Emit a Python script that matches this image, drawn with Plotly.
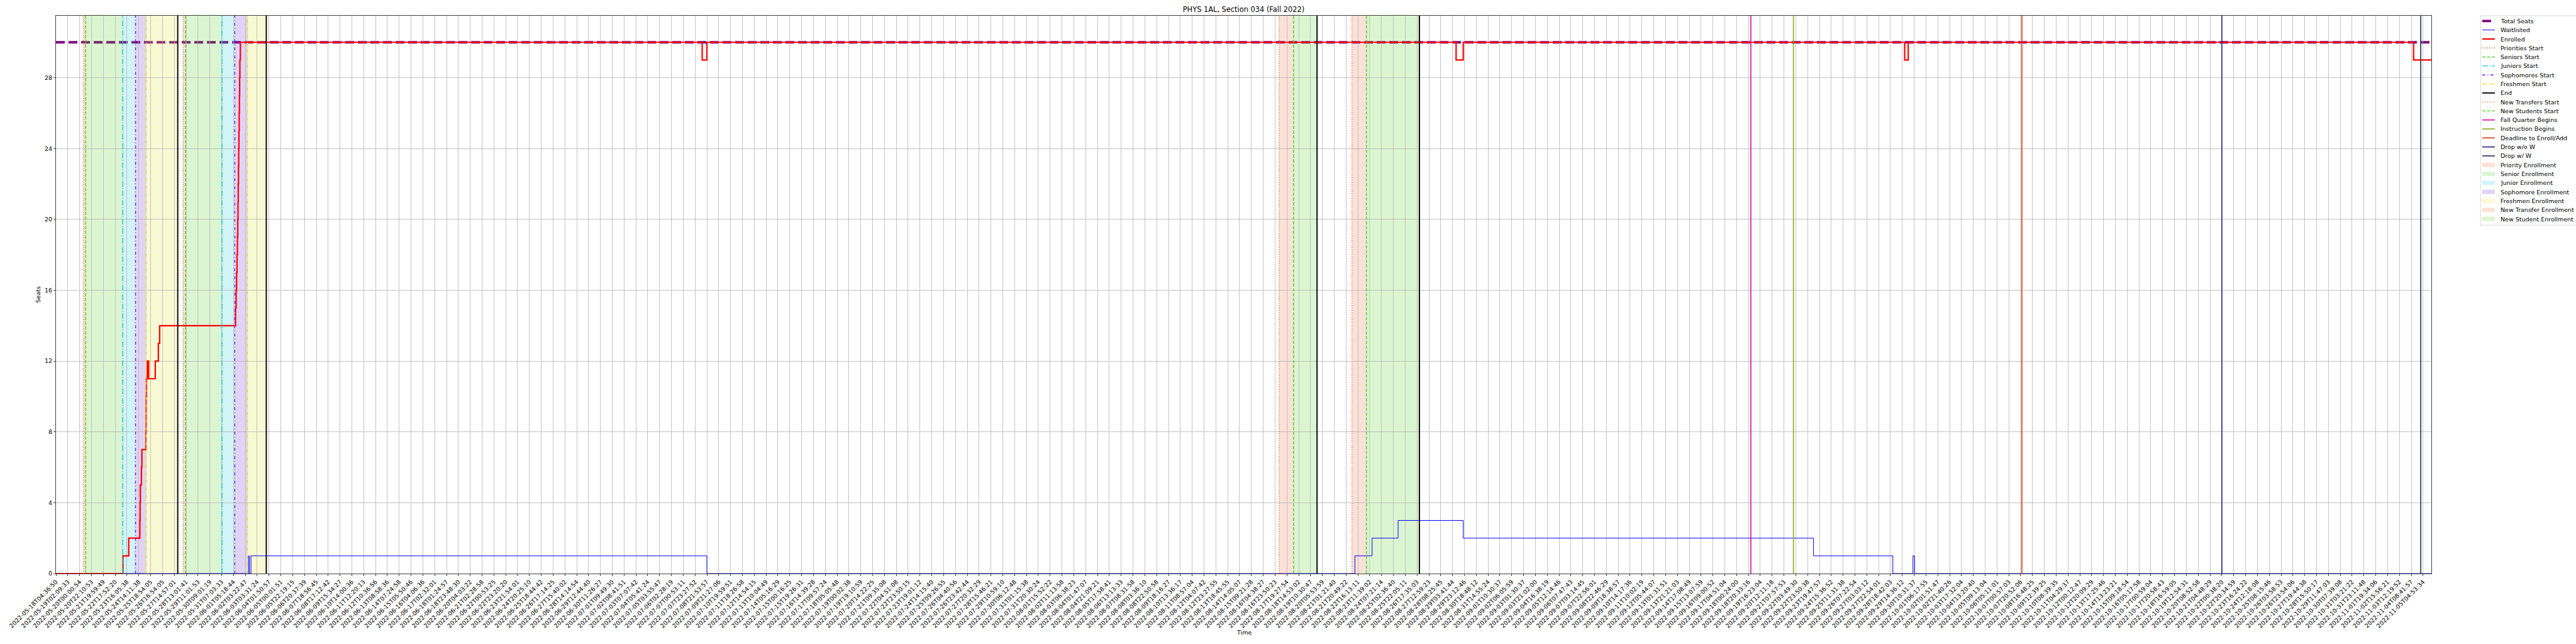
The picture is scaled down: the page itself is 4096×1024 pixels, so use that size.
import plotly.graph_objects as go

# ---------------- data ----------------
tick_labels = [
    "2022-05-18T04:36:50", "2022-05-19T02:09:33", "2022-05-20T00:00:54", "2022-05-20T22:10:53",
    "2022-05-21T19:59:49", "2022-05-22T17:52:20", "2022-05-23T16:05:38", "2022-05-24T14:11:38",
    "2022-05-25T18:54:05", "2022-05-26T16:54:05", "2022-05-27T14:57:01", "2022-05-28T13:01:41",
    "2022-05-29T11:01:53", "2022-05-30T09:01:19", "2022-05-31T07:03:33", "2022-06-01T05:18:44",
    "2022-06-02T03:22:47", "2022-06-03T03:31:24", "2022-06-04T01:50:57", "2022-06-05T00:01:51",
    "2022-06-05T22:19:15", "2022-06-06T20:37:39", "2022-06-07T18:56:45", "2022-06-08T17:12:42",
    "2022-06-09T15:34:27", "2022-06-10T14:00:36", "2022-06-11T12:20:13", "2022-06-12T10:36:56",
    "2022-06-13T08:58:36", "2022-06-14T07:24:58", "2022-06-15T05:50:46", "2022-06-16T04:06:36",
    "2022-06-17T02:32:01", "2022-06-18T01:24:57", "2022-06-18T23:48:30", "2022-06-20T04:03:22",
    "2022-06-21T02:28:58", "2022-06-22T00:53:25", "2022-06-22T23:20:20", "2022-06-23T21:54:01",
    "2022-06-24T20:25:10", "2022-06-25T18:44:42", "2022-06-26T17:14:25", "2022-06-27T15:40:02",
    "2022-06-28T14:14:54", "2022-06-29T12:44:40", "2022-06-30T11:26:27", "2022-07-01T09:49:30",
    "2022-07-02T08:41:51", "2022-07-03T07:07:42", "2022-07-04T05:41:24", "2022-07-05T03:55:47",
    "2022-07-06T02:28:19", "2022-07-07T00:53:11", "2022-07-07T23:27:52", "2022-07-08T21:53:57",
    "2022-07-09T21:27:06", "2022-07-10T19:59:51", "2022-07-11T18:26:58", "2022-07-12T14:54:15",
    "2022-07-13T10:04:49", "2022-07-14T05:16:29", "2022-07-15T00:16:25", "2022-07-15T19:26:31",
    "2022-07-16T14:39:28", "2022-07-17T09:57:24", "2022-07-18T05:05:48", "2022-07-19T00:02:38",
    "2022-07-19T19:10:59", "2022-07-20T14:22:25", "2022-07-21T09:35:08", "2022-07-22T04:51:08",
    "2022-07-22T23:50:15", "2022-07-23T19:01:12", "2022-07-24T14:15:40", "2022-07-25T09:26:55",
    "2022-07-26T04:40:56", "2022-07-26T23:42:44", "2022-07-27T20:32:29", "2022-07-28T15:46:21",
    "2022-07-29T10:59:10", "2022-07-30T06:12:48", "2022-07-31T01:15:38", "2022-07-31T20:30:24",
    "2022-08-01T15:52:22", "2022-08-02T11:13:58", "2022-08-03T06:38:23", "2022-08-04T01:47:07",
    "2022-08-04T21:09:21", "2022-08-05T17:58:41", "2022-08-06T13:13:33", "2022-08-07T08:31:58",
    "2022-08-08T03:36:10", "2022-08-08T22:50:58", "2022-08-09T18:16:27", "2022-08-10T13:36:17",
    "2022-08-11T08:57:04", "2022-08-12T04:07:42", "2022-08-12T23:27:55", "2022-08-13T18:45:55",
    "2022-08-14T14:05:07", "2022-08-15T09:21:28", "2022-08-16T04:38:27", "2022-08-16T23:50:23",
    "2022-08-17T19:27:54", "2022-08-18T14:53:02", "2022-08-19T10:30:47", "2022-08-20T05:53:59",
    "2022-08-21T01:21:40", "2022-08-21T20:49:22", "2022-08-22T16:13:11", "2022-08-23T11:39:02",
    "2022-08-24T07:21:14", "2022-08-25T02:36:40", "2022-08-25T22:05:11", "2022-08-26T17:35:03",
    "2022-08-27T12:59:23", "2022-08-28T08:25:45", "2022-08-29T03:41:44", "2022-08-29T23:12:46",
    "2022-08-30T18:48:12", "2022-08-31T14:55:24", "2022-09-01T10:30:37", "2022-09-02T06:05:59",
    "2022-09-03T01:30:37", "2022-09-03T21:02:00", "2022-09-04T16:38:19", "2022-09-05T12:14:46",
    "2022-09-06T07:47:43", "2022-09-07T03:14:45", "2022-09-07T22:56:01", "2022-09-08T22:46:29",
    "2022-09-09T18:38:57", "2022-09-10T14:17:36", "2022-09-11T10:02:19", "2022-09-12T05:44:07",
    "2022-09-13T01:31:51", "2022-09-13T21:21:03", "2022-09-14T17:08:49", "2022-09-15T13:07:59",
    "2022-09-16T09:00:52", "2022-09-17T04:51:04", "2022-09-18T00:24:00", "2022-09-18T20:33:16",
    "2022-09-19T16:23:04", "2022-09-20T12:11:18", "2022-09-21T07:57:53", "2022-09-22T03:49:30",
    "2022-09-22T23:50:38", "2022-09-23T19:47:57", "2022-09-24T15:36:52", "2022-09-25T11:31:38",
    "2022-09-26T07:22:54", "2022-09-27T03:03:12", "2022-09-27T22:54:01", "2022-09-28T18:42:03",
    "2022-09-29T14:36:12", "2022-09-30T10:31:37", "2022-10-01T06:17:55", "2022-10-02T01:51:47",
    "2022-10-02T21:40:26", "2022-10-03T17:32:04", "2022-10-04T13:20:40", "2022-10-05T09:13:04",
    "2022-10-06T05:11:01", "2022-10-07T00:57:03", "2022-10-07T20:52:06", "2022-10-08T16:48:25",
    "2022-10-09T12:39:25", "2022-10-10T08:39:35", "2022-10-11T04:29:37", "2022-10-12T00:12:47",
    "2022-10-12T20:09:29", "2022-10-13T17:25:46", "2022-10-14T13:23:21", "2022-10-15T09:18:54",
    "2022-10-16T05:17:58", "2022-10-17T00:59:04", "2022-10-17T20:58:43", "2022-10-18T16:59:05",
    "2022-10-19T12:54:31", "2022-10-20T08:52:58", "2022-10-21T04:48:29", "2022-10-22T00:38:20",
    "2022-10-22T20:34:59", "2022-10-23T16:24:22", "2022-10-24T12:18:08", "2022-10-25T08:15:46",
    "2022-10-26T03:58:53", "2022-10-26T23:54:06", "2022-10-27T19:44:38", "2022-10-28T15:50:17",
    "2022-10-29T11:47:03", "2022-10-30T07:39:08", "2022-10-31T03:21:22", "2022-10-31T23:11:48",
    "2022-11-01T19:34:06", "2022-11-02T15:56:21", "2022-11-03T12:19:52", "2022-11-04T08:41:57",
    "2022-11-05T04:53:34",
]
x_end = 200.7          # last sample position (in tick-step units)
total_seats = 30

# Enrolled (step changes: position in tick units, value from that point on)
enrolled_x = [0, 5.66, 6.15, 7.09, 7.11, 7.13, 7.22, 7.26, 7.60, 7.62, 7.64, 7.72, 7.83,
              8.39, 8.65, 8.76, 15.17, 15.22, 15.26, 15.30, 15.33, 15.36, 15.38, 15.40,
              15.42, 15.44, 15.46, 15.48, 15.50, 15.52, 15.54, 15.56, 15.58,
              54.6, 55.0, 118.3, 118.9, 156.2, 156.5, 199.2, x_end]
enrolled_y = [0, 1, 2, 3, 4, 5, 6, 7, 8, 10, 11, 12, 11,
              12, 13, 14, 15, 16, 17, 18, 19, 20, 21, 22,
              23, 24, 25, 26, 27, 28, 29, 29, 30,
              29, 30, 29, 30, 29, 30, 29, 29]

# Waitlisted
wait_x = [0, 16.27, 16.35, 16.48, 55.0, 109.75, 111.2, 113.4, 118.9, 148.5, 155.2,
          156.9, 157.04, x_end]
wait_y = [0, 1, 0, 1, 0, 1, 2, 3, 2, 1, 0, 1, 0, 0]

# Event markers (tick units)
priorities_start = [2.33, 10.75]
seniors_start = [2.51, 10.94]
juniors_start = [5.64, 14.03]
sophomores_start = [6.72, 15.11]
freshmen_start = [7.62, 16.18]
end_marks = [10.29, 17.77, 106.55, 115.2]
new_transfers_start = [103.35, 109.5]
new_students_start = [104.57, 110.72]
fall_quarter_begins = [143.2]
instruction_begins = [146.8]
deadline_enroll_add = [166.1]
drop_wo_w = [183.0]
drop_w_w = [199.8]

y_ticks = [0, 4, 8, 12, 16, 20, 24, 28]

# ---------------- styling ----------------
FONT = "DejaVu Sans"
W, H = 4096, 1024
L, R, T, B = 89, 230, 25, 112
PW, PH = W - L - R, H - T - B

def px_x(p):
    return (p - L) / PW

def px_y(p):
    return 1 - (p - T) / PH

C_PRI = "#F26A35"
C_SEN = "#4CCF1A"
C_JUN = "#18C6D8"
C_SOP = "#6A22D4"
C_FRE = "#E0E02A"

DOT = "1.4px,2.3px"
DASH = "5.3px,2.3px"
DASHDOT = "9px,2.3px,1.4px,2.3px"
SOPH = "4.8px,3.4px,1.4px,3.4px"
FRESH = "5px,1.4px,1.4px,1.4px,1.4px,1.4px"

fig = go.Figure()

fig.add_trace(go.Scatter(x=wait_x, y=wait_y, mode="lines", line_shape="hv",
                         line=dict(color="#0000FF", width=1.0), name="Waitlisted",
                         showlegend=False, hoverinfo="skip"))
fig.add_trace(go.Scatter(x=enrolled_x, y=enrolled_y, mode="lines", line_shape="hv",
                         line=dict(color="#FF0000", width=2.2), name="Enrolled",
                         showlegend=False, hoverinfo="skip"))

shapes = []
legend_items = []   # (kind, name, style)

ts_line = dict(color="#800080", width=3.8, dash="14px,6px")
shapes.append(dict(type="line", xref="paper", x0=0, x1=1, yref="y", y0=total_seats, y1=total_seats,
                   line=ts_line, layer="between"))
legend_items.append(("line", "Total Seats", ts_line))
legend_items.append(("line", "Waitlisted", dict(color="#0000FF", width=1.0)))
legend_items.append(("line", "Enrolled", dict(color="#FF0000", width=2.2)))

def vlines(xs, name, color, dash, width):
    ln = dict(color=color, width=width, dash=dash)
    for xv in xs:
        shapes.append(dict(type="line", xref="x", x0=xv, x1=xv, yref="paper", y0=0, y1=1,
                           line=ln, layer="above"))
    legend_items.append(("line", name, ln))

def spans(starts, ends, name, color):
    for a, b in zip(starts, ends):
        shapes.append(dict(type="rect", xref="x", x0=a, x1=b, yref="paper", y0=0, y1=1,
                           fillcolor=color, opacity=0.2, line=dict(width=0), layer="below"))
    legend_items.append(("rect", name, color))

vlines(priorities_start, "Priorities Start", C_PRI, DOT, 1.4)
vlines(seniors_start, "Seniors Start", C_SEN, DASH, 1.4)
vlines(juniors_start, "Juniors Start", C_JUN, DASHDOT, 1.4)
vlines(sophomores_start, "Sophomores Start", C_SOP, SOPH, 1.4)
vlines(freshmen_start, "Freshmen Start", C_FRE, FRESH, 1.4)
vlines(end_marks, "End", "#000000", "solid", 1.9)
vlines(new_transfers_start, "New Transfers Start", C_PRI, DOT, 1.4)
vlines(new_students_start, "New Students Start", C_SEN, DASH, 1.4)
vlines(fall_quarter_begins, "Fall Quarter Begins", "#E0119D", "solid", 1.7)
vlines(instruction_begins, "Instruction Begins", "#8DB31A", "solid", 1.7)
vlines(deadline_enroll_add, "Deadline to Enroll/Add", "#D6441A", "solid", 1.7)
vlines(drop_wo_w, "Drop w/o W", "#2E2A8C", "solid", 1.7)
vlines(drop_w_w, "Drop w/ W", "#2F3C5C", "solid", 1.7)

spans(priorities_start, seniors_start, "Priority Enrollment", C_PRI)
spans(seniors_start, juniors_start, "Senior Enrollment", C_SEN)
spans(juniors_start, sophomores_start, "Junior Enrollment", C_JUN)
spans(sophomores_start, freshmen_start, "Sophomore Enrollment", C_SOP)
spans(freshmen_start, end_marks[:2], "Freshmen Enrollment", C_FRE)
spans(new_transfers_start, new_students_start, "New Transfer Enrollment", C_PRI)
spans(new_students_start, end_marks[2:], "New Student Enrollment", C_SEN)

# ---------------- manual legend (matplotlib-like, outside right) ----------------
LEG_X0, LEG_X1 = 3944, 4110
LEG_Y0 = 25
ROW0, ROWH = 33.4, 14.3
LEG_Y1 = ROW0 + ROWH * (len(legend_items) - 1) + 10
H_X0, H_X1 = 3947, 3967
TXT_X = 3974

shapes.append(dict(type="rect", xref="paper", yref="paper",
                   x0=px_x(LEG_X0), x1=px_x(LEG_X1), y0=px_y(LEG_Y0), y1=px_y(LEG_Y1),
                   fillcolor="white", line=dict(color="#cccccc", width=0.8), layer="above"))
annotations = []
for i, (kind, name, style) in enumerate(legend_items):
    yc = ROW0 + ROWH * i
    if kind == "line":
        shapes.append(dict(type="line", xref="paper", yref="paper",
                           x0=px_x(H_X0), x1=px_x(H_X1), y0=px_y(yc), y1=px_y(yc),
                           line=style, layer="above"))
    else:
        shapes.append(dict(type="rect", xref="paper", yref="paper",
                           x0=px_x(H_X0), x1=px_x(H_X1), y0=px_y(yc - 3.4), y1=px_y(yc + 3.4),
                           fillcolor=style, opacity=0.2, line=dict(width=0), layer="above"))
    annotations.append(dict(text=name, xref="paper", yref="paper", x=px_x(TXT_X), y=px_y(yc),
                            xanchor="left", yanchor="middle", showarrow=False,
                            font=dict(family=FONT, size=9.5, color="black")))

# axis titles (positioned like matplotlib)
annotations.append(dict(text="Time", xref="paper", yref="paper", x=0.5, y=px_y(1005),
                        xanchor="center", yanchor="middle", showarrow=False,
                        font=dict(family=FONT, size=9.5, color="black")))
annotations.append(dict(text="Seats", xref="paper", yref="paper", x=px_x(60), y=0.5,
                        xanchor="center", yanchor="middle", showarrow=False, textangle=-90,
                        font=dict(family=FONT, size=9.5, color="black")))

fig.update_layout(
    width=W, height=H,
    margin=dict(l=L, r=R, t=T, b=B, pad=0, autoexpand=False),
    paper_bgcolor="white", plot_bgcolor="white",
    font=dict(family=FONT, size=9.5, color="black"),
    shapes=shapes, annotations=annotations,
    title=dict(text="PHYS 1AL, Section 034 (Fall 2022)", x=0.5, xref="paper",
               y=1 - 15.5 / H, yref="container", yanchor="middle", xanchor="center",
               font=dict(family=FONT, size=11.4, color="black")),
    showlegend=False,
    hovermode=False,
    xaxis=dict(range=[0, x_end], tickmode="array", tickvals=list(range(len(tick_labels))),
               ticktext=tick_labels, tickangle=-45, showgrid=True, gridcolor="#b0b0b0",
               gridwidth=0.75, zeroline=False, showline=True, linecolor="black", linewidth=0.75,
               mirror=True, ticks="outside", ticklen=3.3, tickwidth=0.75, tickcolor="black",
               tickfont=dict(family=FONT, size=9.5, color="black")),
    yaxis=dict(range=[0, 31.5], tickmode="array", tickvals=y_ticks,
               showgrid=True, gridcolor="#b0b0b0", gridwidth=0.75, zeroline=False,
               showline=True, linecolor="black", linewidth=0.75, mirror=True,
               ticks="outside", ticklen=3.3, tickwidth=0.75, tickcolor="black",
               tickfont=dict(family=FONT, size=9.5, color="black")),
)

fig.write_html("out.html", config={"displayModeBar": False, "staticPlot": True},
               post_script="document.body.style.margin='0';document.body.style.overflow='hidden';")
